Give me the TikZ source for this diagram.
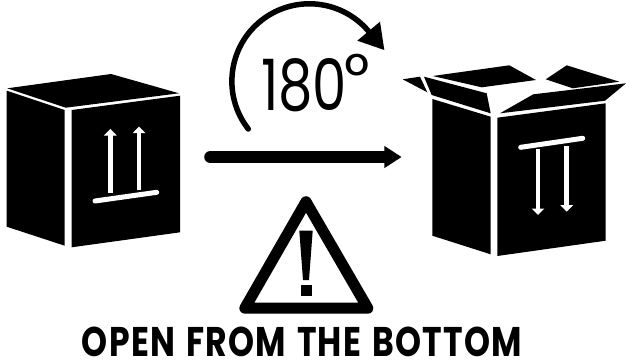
\documentclass[tikz,border=0pt]{standalone}
\usepackage{graphicx}
\usepackage{fontspec}
\setmainfont{Poppins}
\usetikzlibrary{arrows.meta}
\tikzset{
  face/.style={fill=black,draw=none},
  whitearrow/.style={draw=white,line width=4.5pt,-{Triangle[length=6.5pt,width=12.5pt]}},
  whitebar/.style={draw=white,line width=5pt,line cap=round},
  label/.style={inner sep=0pt,outer sep=0pt,text=black}
}
\begin{document}
\begin{tikzpicture}[x=1pt,y=-1pt]
\useasboundingbox[fill=white] (0,0) rectangle (626,362);
% left box
\fill[face] (6.7,90.7) -- (64.7,110) -- (64.7,245.7) -- (6.7,226.7) -- cycle;
\fill[face] (71.7,110) -- (180,95.7) -- (180,232.3) -- (71.7,247.3) -- cycle;
\fill[face] (7.3,88.3) -- (111,74) -- (179,93.3) -- (65.7,107.7) -- cycle;
\coordinate (la1) at (110.3,193); \coordinate (la2) at (110.3,129);
\coordinate (lb1) at (139,190); \coordinate (lb2) at (139,126.7);
\coordinate (lc1) at (95,201); \coordinate (lc2) at (156.7,192.3);
\draw[whitearrow] (la1) -- (la2);
\draw[whitearrow] (lb1) -- (lb2);
\draw[whitebar] (lc1) -- (lc2);
% right box
\fill[face] (432.3,99) -- (490.7,116.7) -- (490.7,254.3) -- (432.3,235.7) -- cycle;
\fill[face] (497.3,117.7) -- (605.7,103.3) -- (605.7,240.7) -- (497.3,256) -- cycle;
\fill[face] (424,76.7) -- (486.7,93.3) -- (490.7,113.3) -- (431.7,95) -- cycle;
\fill[face] (402.7,79.3) -- (420,76.7) -- (427.3,92.3) -- cycle;
\fill[face] (432.7,76) -- (509.3,65.3) -- (536,80) -- (481.7,87.3) -- cycle;
\fill[face] (545.7,79.3) -- (566.7,65.3) -- (619.3,81.7) -- (572.7,88.3) -- cycle;
\fill[face] (500,113.3) -- (533.3,94.3) -- (626,83.3) -- (605,100.7) -- cycle;
\coordinate (ra1) at (538,149); \coordinate (ra2) at (538,215);
\coordinate (rb1) at (566.7,146); \coordinate (rb2) at (566.7,211.7);
\coordinate (rc1) at (520.7,147.3); \coordinate (rc2) at (582.7,138.3);
\draw[whitearrow] (ra1) -- (ra2);
\draw[whitearrow] (rb1) -- (rb2);
\draw[whitebar] (rc1) -- (rc2);
% rotation arc
\coordinate (arcstart) at (248.3,129);
\draw[line width=5.5pt,line cap=round] (arcstart) arc[start angle=142,end angle=322,radius=77.5];
\fill[face] (384.3,50) -- (380,21.7) -- (357.3,40.7) -- cycle;
\node[label,anchor=base west] (deg) at (261,110) {\resizebox{86pt}{52pt}{180}\kern-2.5pt\raisebox{12.5pt}{\fontsize{62}{62}\selectfont °}};
% main arrow
\coordinate (ma) at (210.5,157); \coordinate (mb) at (401.7,157);
\draw[line width=12.6pt,line cap=round,-{Triangle[length=17.4pt,width=21pt]}] (ma) -- (mb);
% warning triangle
\draw[line width=11pt,line join=round] (306,201.7) -- (367.8,308.2) -- (244.8,308.2) -- cycle;
\fill[face] (299.3,230.7) -- (312.7,230.7) -- (309,280) -- (303,280) -- cycle;
\fill[face] (300.7,285) rectangle (311.7,296);
% caption
\node[label] (cap) at (302,341.5) {\resizebox{440pt}{29.5pt}{\fontspec[LetterSpace=4,WordSpace=1.3]{Poppins Bold}OPEN FROM THE BOTTOM}};
\end{tikzpicture}
\end{document}
